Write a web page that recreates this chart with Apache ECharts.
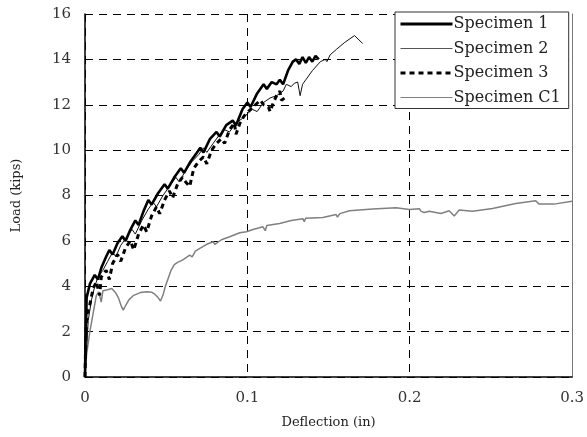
<!DOCTYPE html>
<html>
<head>
<meta charset="utf-8">
<script src="https://cdn.jsdelivr.net/npm/echarts@6/dist/echarts.min.js"></script>
<style>
  html, body { margin: 0; padding: 0; background: #fff; }
  #main { width: 587px; height: 437px; }
</style>
</head>
<body>
<div id="main"></div>
<script>
// 数据：[挠度 (in), 荷载 (kips)]
var specimen1 = [
  [0, 0], [0.0003, 1.5], [0.0008, 2.8], [0.001, 3.5], [0.003, 4.1], [0.006, 4.5], [0.008, 4.3],
  [0.010, 4.8], [0.013, 5.3], [0.015, 5.6], [0.017, 5.4], [0.020, 5.9], [0.023, 6.2], [0.025, 6.0],
  [0.028, 6.5], [0.031, 6.9], [0.033, 6.7], [0.036, 7.3], [0.039, 7.8], [0.041, 7.6], [0.045, 8.1],
  [0.049, 8.5], [0.051, 8.3], [0.055, 8.8], [0.059, 9.2], [0.061, 9.0], [0.065, 9.5], [0.069, 9.9],
  [0.071, 10.1], [0.073, 9.9], [0.077, 10.5], [0.081, 10.8], [0.083, 10.6], [0.087, 11.1], [0.091, 11.3],
  [0.093, 11.1], [0.097, 11.8], [0.100, 12.1], [0.102, 11.9], [0.106, 12.5], [0.110, 12.9], [0.112, 12.7],
  [0.115, 13.0], [0.118, 12.9], [0.120, 13.1], [0.122, 12.9], [0.125, 13.5], [0.128, 13.9], [0.130, 14.0],
  [0.132, 13.8], [0.134, 14.1], [0.136, 13.85], [0.138, 14.1], [0.140, 13.9], [0.142, 14.15], [0.144, 14.0]
]
var specimen2 = [
  [0, 0], [0.001, 1.2], [0.002, 2.5], [0.004, 3.4], [0.006, 4.0], [0.008, 4.4], [0.011, 4.7],
  [0.014, 5.1], [0.017, 5.5], [0.019, 5.3], [0.022, 5.8], [0.026, 6.2], [0.029, 6.5], [0.031, 6.3],
  [0.035, 6.9], [0.039, 7.4], [0.042, 7.7], [0.044, 7.5], [0.048, 8.0], [0.052, 8.4], [0.056, 8.8],
  [0.058, 8.6], [0.062, 9.1], [0.066, 9.5], [0.070, 9.8], [0.073, 10.1], [0.075, 9.9], [0.079, 10.3],
  [0.083, 10.7], [0.086, 10.9], [0.089, 10.8], [0.093, 11.2], [0.097, 11.4], [0.100, 11.6], [0.103, 11.8],
  [0.106, 11.7], [0.110, 12.1], [0.114, 12.3], [0.118, 12.4], [0.122, 12.6], [0.124, 12.9], [0.127, 12.8],
  [0.129, 12.95], [0.131, 13.0], [0.1325, 12.4], [0.134, 12.9], [0.136, 13.1], [0.140, 13.5], [0.145, 13.9],
  [0.148, 14.0], [0.149, 13.9], [0.151, 14.2], [0.155, 14.45], [0.160, 14.75], [0.166, 15.05], [0.171, 14.7]
]
var specimen3 = [
  [0, 0], [0.0005, 1.8], [0.001, 2.7], [0.003, 3.2], [0.005, 3.9], [0.007, 4.2], [0.009, 3.6],
  [0.010, 4.4], [0.013, 4.7], [0.015, 4.3], [0.017, 5.0], [0.020, 5.4], [0.022, 5.1], [0.025, 5.7],
  [0.028, 6.0], [0.030, 5.6], [0.033, 6.3], [0.036, 6.7], [0.038, 6.4], [0.041, 7.1], [0.044, 7.5],
  [0.046, 7.2], [0.049, 7.8], [0.052, 8.2], [0.054, 7.9], [0.057, 8.5], [0.060, 8.8], [0.062, 8.6],
  [0.0645, 8.4], [0.067, 9.2], [0.070, 9.5], [0.073, 9.7], [0.075, 9.4], [0.078, 10.0], [0.081, 10.3],
  [0.084, 10.5], [0.086, 10.3], [0.089, 10.9], [0.092, 11.2], [0.093, 10.7], [0.096, 11.3], [0.099, 11.6],
  [0.102, 11.8], [0.105, 12.0], [0.108, 12.2], [0.110, 12.0], [0.113, 11.9], [0.114, 11.7], [0.116, 12.1],
  [0.118, 12.4], [0.120, 12.6], [0.121, 12.2], [0.123, 12.3]
]
var specimenC1 = [
  [0, 0], [0.001, 1.0], [0.003, 2.0], [0.005, 2.8], [0.007, 3.6], [0.0085, 3.75], [0.010, 3.3],
  [0.011, 3.8], [0.014, 3.85], [0.0165, 3.9], [0.019, 3.7], [0.0205, 3.5], [0.0225, 3.1], [0.0236, 2.95],
  [0.025, 3.15], [0.027, 3.4], [0.030, 3.6], [0.034, 3.72], [0.038, 3.76], [0.041, 3.74], [0.043, 3.65],
  [0.045, 3.5], [0.0465, 3.35], [0.048, 3.6], [0.0495, 4.0], [0.051, 4.3], [0.053, 4.7], [0.055, 4.95],
  [0.057, 5.05], [0.060, 5.15], [0.0645, 5.37], [0.066, 5.3], [0.068, 5.55], [0.0707, 5.67], [0.075, 5.85],
  [0.0789, 5.96], [0.080, 5.85], [0.084, 6.05], [0.0891, 6.18], [0.0953, 6.36], [0.0994, 6.40], [0.1035, 6.5],
  [0.1096, 6.62], [0.111, 6.45], [0.112, 6.68], [0.1199, 6.77], [0.127, 6.9], [0.1342, 6.98], [0.135, 6.85],
  [0.136, 7.0], [0.1465, 7.03], [0.1547, 7.16], [0.1555, 7.05], [0.157, 7.2], [0.1629, 7.33], [0.1772, 7.40],
  [0.1916, 7.46], [0.1998, 7.38], [0.2059, 7.42], [0.207, 7.3], [0.209, 7.25], [0.212, 7.31], [0.2192, 7.21],
  [0.2243, 7.33], [0.2274, 7.1], [0.2305, 7.36], [0.2387, 7.31], [0.251, 7.43], [0.2653, 7.65], [0.2776, 7.77],
  [0.2797, 7.62], [0.2889, 7.62], [0.30, 7.75]
]
var xTicks = ['0', '0.1', '0.2', '0.3']

var font = 'DejaVu Serif'
var myChart = echarts.init(document.getElementById('main'))

var option = {
  animation: false,
  backgroundColor: '#fff',
  textStyle: { fontFamily: font },
  grid: { left: 85, right: 14, top: 14, bottom: 60 },
  legend: {
    orient: 'vertical',
    left: 395,
    top: 12,
    padding: [4, 8, 3, 4],
    backgroundColor: '#fff',
    borderColor: '#333',
    borderWidth: 1,
    itemWidth: 52,
    itemHeight: 14,
    itemGap: 8.5,
    itemStyle: { opacity: 0 },
    textStyle: { fontFamily: font, fontSize: 16, color: '#222', padding: [0, 0, 0, -4] },
    data: [
      { name: 'Specimen 1', lineStyle: { color: '#000', width: 3 } },
      { name: 'Specimen 2', lineStyle: { color: '#555', width: 1.2 } },
      { name: 'Specimen 3', lineStyle: { color: '#000', width: 3, type: [5, 4] } },
      { name: 'Specimen C1', lineStyle: { color: '#808080', width: 1.2 } }
    ]
  },
  xAxis: {
    type: 'value',
    min: 0,
    max: 0.3,
    interval: 0.1,
    name: 'Deflection (in)',
    nameLocation: 'middle',
    nameGap: 39,
    nameTextStyle: { fontFamily: font, fontSize: 13, color: '#222' },
    axisLine: { show: true, onZero: false, lineStyle: { color: '#000', width: 1.5 } },
    axisTick: { show: false },
    axisLabel: {
      margin: 14,
      fontFamily: font,
      fontSize: 15,
      color: '#333',
      formatter: function (v) { return xTicks[Math.round(v * 10)] }
    },
    splitLine: { show: true, lineStyle: { color: '#000', type: [8, 6], width: 1 } }
  },
  yAxis: [
    {
      type: 'value',
      min: 0,
      max: 16,
      interval: 2,
      name: 'Load (kips)',
      nameLocation: 'middle',
      nameGap: 62,
      nameTextStyle: { fontFamily: font, fontSize: 13, color: '#222' },
      axisLine: { show: true, lineStyle: { color: '#000', width: 1.5 } },
      axisTick: { show: false },
      axisLabel: { margin: 14, fontFamily: font, fontSize: 15, color: '#333' },
      splitLine: { show: true, lineStyle: { color: '#000', type: [8, 6], width: 1 } }
    },
    {
      type: 'value',
      position: 'right',
      min: 0,
      max: 16,
      axisLine: { show: true, lineStyle: { color: '#777', width: 1 } },
      axisTick: { show: false },
      axisLabel: { show: false },
      splitLine: { show: false }
    }
  ],
  series: [
    {
      name: 'Specimen 1',
      type: 'line',
      data: specimen1,
      symbol: 'none',
      z: 4,
      lineStyle: { color: '#000', width: 2.6 },
      itemStyle: { color: '#000' }
    },
    {
      name: 'Specimen 2',
      type: 'line',
      data: specimen2,
      symbol: 'none',
      z: 3,
      lineStyle: { color: '#111', width: 1 },
      itemStyle: { color: '#555' }
    },
    {
      name: 'Specimen 3',
      type: 'line',
      data: specimen3,
      symbol: 'none',
      z: 5,
      lineStyle: { color: '#000', width: 3, type: [5, 4] },
      itemStyle: { color: '#000' }
    },
    {
      name: 'Specimen C1',
      type: 'line',
      data: specimenC1,
      symbol: 'none',
      z: 2,
      lineStyle: { color: '#808080', width: 1.5 },
      itemStyle: { color: '#808080' }
    }
  ]
}

myChart.setOption(option)
</script>
</body>
</html>
